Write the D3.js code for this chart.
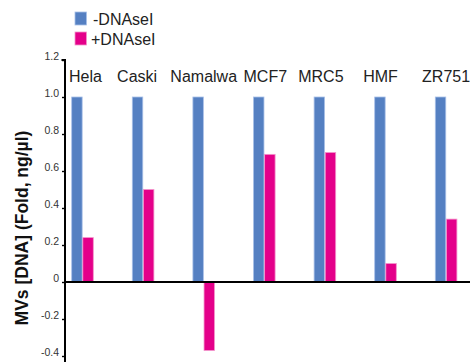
<!DOCTYPE html>
<html>
<head>
<meta charset="utf-8">
<script src="https://cdn.jsdelivr.net/npm/d3@7"></script>
<style>
  html, body { margin: 0; padding: 0; background: #fff; }
  svg { display: block; font-family: "Liberation Sans", Arial, Helvetica, sans-serif; }
</style>
</head>
<body>
<svg id="chart" width="470" height="362"></svg>
<script>
// Cell lines and MV DNA fold change without / with DNase I treatment
const cellLines = ["Hela", "Caski", "Namalwa", "MCF7", "MRC5", "HMF", "ZR751"];
const seriesNames = ["-DNAseI", "+DNAseI"];
const minusDNAse = [1.0, 1.0, 1.0, 1.0, 1.0, 1.0, 1.0];
const plusDNAse = [0.24, 0.50, -0.37, 0.69, 0.70, 0.10, 0.34];
const yTicks = [1.2, 1.0, 0.8, 0.6, 0.4, 0.2, 0, -0.2, -0.4];
const yTickLabels = ["1.2", "1.0", "0.8", "0.6", "0.4", "0.2", "0", "-0.2", "-0.4"];
const seriesColors = ["#5580c2", "#e4008a"];
const seriesEdges = ["#a9c0e8", "#f394cb"];

const W = 470, H = 362;
const svg = d3.select("#chart");

const y = d3.scaleLinear().domain([-0.4, 1.2]).range([356, 60]);
const axisX = 65;

const groupStep = 60.6, groupWidth = 21.6;
const pInner = 1 - groupWidth / groupStep;
const x0 = d3.scaleBand()
  .domain(cellLines)
  .range([71.7, 71.7 + groupStep * (cellLines.length - pInner)])
  .paddingInner(pInner)
  .paddingOuter(0);
const x1 = d3.scaleBand()
  .domain(seriesNames)
  .range([0, x0.bandwidth()])
  .paddingInner(0.06);

const rows = cellLines.map((c, i) => ({
  cell: c,
  values: [
    { s: seriesNames[0], v: minusDNAse[i] },
    { s: seriesNames[1], v: plusDNAse[i] }
  ]
}));
const color = d3.scaleOrdinal().domain(seriesNames).range(seriesColors);
const edge = d3.scaleOrdinal().domain(seriesNames).range(seriesEdges);

// Bars
svg.append("g").selectAll("g")
  .data(rows)
  .join("g")
  .attr("transform", d => `translate(${x0(d.cell)},0)`)
  .selectAll("rect")
  .data(d => d.values)
  .join("rect")
  .attr("x", d => x1(d.s))
  .attr("y", d => y(Math.max(0, d.v)))
  .attr("width", x1.bandwidth())
  .attr("height", d => Math.abs(y(d.v) - y(0)))
  .attr("fill", d => color(d.s))
  .attr("stroke", d => edge(d.s))
  .attr("stroke-width", 0.8);

// Zero baseline
svg.append("line")
  .attr("x1", axisX).attr("x2", W)
  .attr("y1", y(0)).attr("y2", y(0))
  .attr("stroke", "#000").attr("stroke-width", 2);

// Y axis
const yAxis = d3.axisLeft(y)
  .tickValues(yTicks)
  .tickFormat((d, i) => yTickLabels[i])
  .tickSize(3)
  .tickSizeOuter(0);
const gy = svg.append("g")
  .attr("transform", `translate(${axisX},0)`)
  .call(yAxis);
gy.select(".domain").remove();
gy.selectAll(".tick line").attr("stroke", "#000").attr("stroke-width", 1.4);
gy.selectAll(".tick text")
  .attr("x", -6)
  .attr("dy", "-0.05em")
  .attr("font-size", 10.5)
  .attr("fill", "#333")
  .attr("font-family", "Liberation Sans, Arial, sans-serif");
gy.append("path")
  .attr("d", `M-3.5,${y(1.2)}H0V${H}`)
  .attr("fill", "none")
  .attr("stroke", "#000")
  .attr("stroke-width", 2);

// Category labels, set as one header row above the groups
const labelNudge = [3, -6, 0, 1, -4, -5, 0];
svg.append("g").selectAll("text")
  .data(cellLines)
  .join("text")
  .attr("x", (d, i) => x0(d) + x0.bandwidth() / 2 + labelNudge[i])
  .attr("y", 81.5)
  .attr("text-anchor", "middle")
  .attr("font-size", 16)
  .attr("fill", "#222")
  .text(d => d);

// Y title
svg.append("text")
  .attr("transform", "translate(28,228) rotate(-90)")
  .attr("text-anchor", "middle")
  .attr("font-size", 17.5)
  .attr("font-weight", "bold")
  .attr("fill", "#111")
  .text("MVs [DNA] (Fold, ng/\u00b5l)");

// Legend
const legend = svg.append("g").selectAll("g")
  .data(seriesNames)
  .join("g")
  .attr("transform", (d, i) => `translate(75,${12 + i * 20})`);
legend.append("rect")
  .attr("width", 11.5).attr("height", 13)
  .attr("fill", d => color(d))
  .attr("stroke", d => edge(d))
  .attr("stroke-width", 0.8);
legend.append("text")
  .attr("x", d => d.startsWith("-") ? 18 : 16)
  .attr("y", 13)
  .attr("font-size", 16)
  .attr("fill", "#222")
  .text(d => d);
</script>
</body>
</html>
